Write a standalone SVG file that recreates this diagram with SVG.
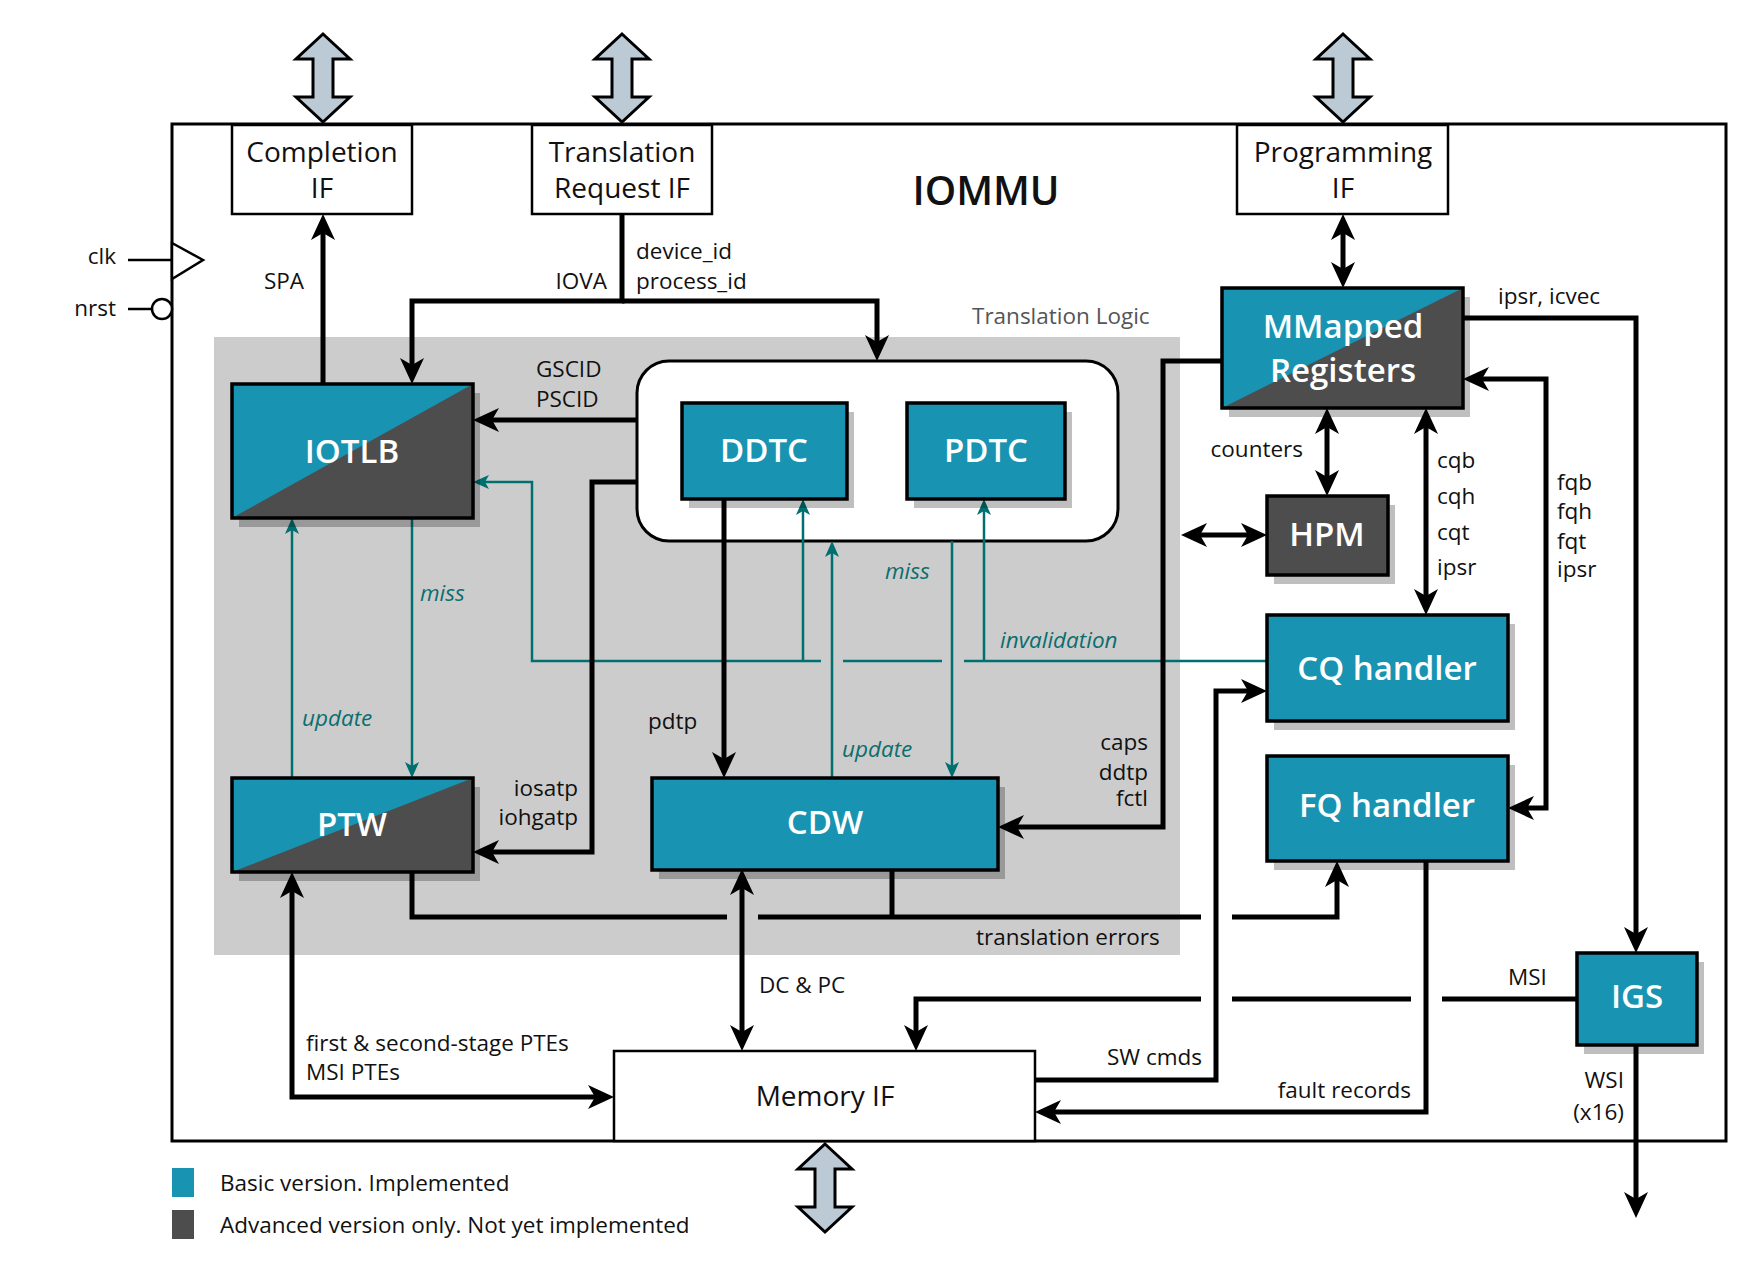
<svg xmlns="http://www.w3.org/2000/svg" width="1758" height="1266" viewBox="0 0 1758 1266">
<style>
.t{font-family:"Open Sans","Noto Sans","DejaVu Sans",sans-serif;font-size:22.5px;fill:#111}
.if{font-family:"Open Sans","Noto Sans","DejaVu Sans",sans-serif;font-size:28px;fill:#111;text-anchor:middle}
.bl{font-family:"Open Sans","Noto Sans","DejaVu Sans",sans-serif;font-size:33px;font-weight:600;fill:#fff;text-anchor:middle}
.it{font-family:"Open Sans","Noto Sans","DejaVu Sans",sans-serif;font-size:22.5px;font-style:italic;fill:#0b6e6e}
.e{text-anchor:end}
.bk{fill:none;stroke:#000;stroke-width:5;stroke-linejoin:miter}
.tl{fill:none;stroke:#006f6f;stroke-width:2.5}
.box{stroke:#000;stroke-width:3.5}
.teal{fill:#1894b2}
.dark{fill:#4d4d4d}
.sh{fill:#000;fill-opacity:0.25}
.big{fill:#bccad6;stroke:#000;stroke-width:3;stroke-linejoin:miter}
</style>
<defs>
<marker id="ab" markerUnits="userSpaceOnUse" markerWidth="30" markerHeight="28" refX="16" refY="12" orient="auto-start-reverse" overflow="visible"><path d="M0,0 L26,12 L0,24 L7,12 z" fill="#000"/></marker>
<marker id="at" markerUnits="userSpaceOnUse" markerWidth="20" markerHeight="18" refX="12" refY="7" orient="auto" overflow="visible"><path d="M0,0 L16,7 L0,14 L4,7 z" fill="#006f6f"/></marker>
</defs>
<rect width="1758" height="1266" fill="#fff"/>

<!-- outer IOMMU box -->
<rect id="iommu" x="172" y="124" width="1554" height="1017" fill="#fff" stroke="#000" stroke-width="3"/>
<text class="t" x="986" y="205" text-anchor="middle" style="font-size:40px;font-weight:600">IOMMU</text>

<!-- translation logic region -->
<g id="translation-logic">
<rect x="214" y="337" width="966" height="618" fill="#cccccc"/>
<text class="t" x="972" y="324" style="fill:#555">Translation Logic</text>
</g>
<g id="cache-group">
<rect x="637" y="361" width="481" height="180" rx="32" fill="#fff" stroke="#000" stroke-width="3"/>
</g>

<!-- big external arrows -->
<g id="ext-arrows">
<polygon class="big" points="323,34 350,59 333,59 333,97 350,97 323,122 296,97 313,97 313,59 296,59"/>
<polygon class="big" points="622,34 649,59 632,59 632,97 649,97 622,122 595,97 612,97 612,59 595,59"/>
<polygon class="big" points="1343,34 1370,59 1353,59 1353,97 1370,97 1343,122 1316,97 1333,97 1333,59 1316,59"/>
<polygon class="big" points="825,1144 852,1169 835,1169 835,1207 852,1207 825,1232 798,1207 815,1207 815,1169 798,1169"/>
</g>

<!-- clk / nrst -->
<g id="clk">
<path d="M128,260 H172" stroke="#000" stroke-width="2.5"/>
<polygon points="172,243 203,260 172,279" fill="#fff" stroke="#000" stroke-width="2.5"/>
<text class="t e" x="116" y="264">clk</text>
</g>
<g id="nrst">
<path d="M128,309 H152" stroke="#000" stroke-width="2.5"/>
<circle cx="162" cy="309" r="10" fill="#fff" stroke="#000" stroke-width="2.5"/>
<text class="t e" x="116" y="316">nrst</text>
</g>

<!-- connectors -->
<g id="connectors">
<!-- teal -->
<path class="tl" d="M412,518 V774" marker-end="url(#at)"/>
<path class="tl" d="M292,778 V522" marker-end="url(#at)"/>
<path class="tl" d="M1267,661 H964"/>
<path class="tl" d="M942,661 H843"/>
<path class="tl" d="M821,661 H532 V482 H477" marker-end="url(#at)"/>
<path class="tl" d="M803,661 V503" marker-end="url(#at)"/>
<path class="tl" d="M984,661 V503" marker-end="url(#at)"/>
<path class="tl" d="M832,778 V545" marker-end="url(#at)"/>
<path class="tl" d="M952,541 V774" marker-end="url(#at)"/>
<!-- black -->
<path class="bk" d="M323,384 V224" marker-end="url(#ab)"/>
<path class="bk" d="M622,214 V301 H412 V374" marker-end="url(#ab)"/>
<path class="bk" d="M622,301 H877 V351" marker-end="url(#ab)"/>
<path class="bk" d="M637,420 H483" marker-end="url(#ab)"/>
<path class="bk" d="M637,482 H592 V852 H483" marker-end="url(#ab)"/>
<path class="bk" d="M724,499 V768" marker-end="url(#ab)"/>
<path class="bk" d="M1222,361 H1163 V827 H1008" marker-end="url(#ab)"/>
<path class="bk" d="M412,872 V917 H727"/>
<path class="bk" d="M758,917 H1201"/>
<path class="bk" d="M1232,917 H1337 V871" marker-end="url(#ab)"/>
<path class="bk" d="M892,869 V917"/>
<path class="bk" d="M742,879 V1041" marker-start="url(#ab)" marker-end="url(#ab)"/>
<path class="bk" d="M292,882 V1097 H604" marker-start="url(#ab)" marker-end="url(#ab)"/>
<path class="bk" d="M1343,224 V278" marker-start="url(#ab)" marker-end="url(#ab)"/>
<path class="bk" d="M1327,418 V486" marker-start="url(#ab)" marker-end="url(#ab)"/>
<path class="bk" d="M1191,535 H1257" marker-start="url(#ab)" marker-end="url(#ab)"/>
<path class="bk" d="M1426,418 V605" marker-start="url(#ab)" marker-end="url(#ab)"/>
<path class="bk" d="M1473,379 H1546 V808 H1518" marker-start="url(#ab)" marker-end="url(#ab)"/>
<path class="bk" d="M1463,318 H1636 V943" marker-end="url(#ab)"/>
<path class="bk" d="M1035,1080 H1216 V691 H1257" marker-end="url(#ab)"/>
<path class="bk" d="M1426,861 V1112 H1045" marker-end="url(#ab)"/>
<path class="bk" d="M1577,999 H1442"/>
<path class="bk" d="M1411,999 H1232"/>
<path class="bk" d="M1201,999 H916 V1041" marker-end="url(#ab)"/>
<path class="bk" d="M1636,1045 V1208" marker-end="url(#ab)"/>
</g>

<!-- interface boxes -->
<g id="completion-if">
<rect x="232" y="125" width="180" height="89" fill="#fff" stroke="#000" stroke-width="2.5"/>
<text class="if" x="322" y="162">Completion</text>
<text class="if" x="322" y="198">IF</text>
</g>
<g id="translation-request-if">
<rect x="532" y="125" width="180" height="89" fill="#fff" stroke="#000" stroke-width="2.5"/>
<text class="if" x="622" y="162">Translation</text>
<text class="if" x="622" y="198">Request IF</text>
</g>
<g id="programming-if">
<rect x="1237" y="125" width="211" height="89" fill="#fff" stroke="#000" stroke-width="2.5"/>
<text class="if" x="1343" y="162">Programming</text>
<text class="if" x="1343" y="198">IF</text>
</g>
<g id="memory-if">
<rect x="614" y="1051" width="421" height="90" fill="#fff" stroke="#000" stroke-width="2.5"/>
<text class="if" x="825" y="1106">Memory IF</text>
</g>

<!-- blocks -->
<g id="iotlb">
<rect class="sh" x="239" y="393" width="241" height="134"/>
<rect class="teal" x="232" y="384" width="241" height="134"/>
<polygon class="dark" points="232,518 473,384 473,518"/>
<rect class="box" x="232" y="384" width="241" height="134" fill="none"/>
<text class="bl" x="352" y="463">IOTLB</text>
</g>
<g id="ptw">
<rect class="sh" x="239" y="787" width="241" height="94"/>
<rect class="teal" x="232" y="778" width="241" height="94"/>
<polygon class="dark" points="232,872 473,778 473,872"/>
<rect class="box" x="232" y="778" width="241" height="94" fill="none"/>
<text class="bl" x="352" y="836">PTW</text>
</g>
<g id="ddtc">
<rect class="sh" x="689" y="412" width="165" height="96"/>
<rect class="teal box" x="682" y="403" width="165" height="96"/>
<text class="bl" x="764" y="462">DDTC</text>
</g>
<g id="pdtc">
<rect class="sh" x="914" y="412" width="158" height="96"/>
<rect class="teal box" x="907" y="403" width="158" height="96"/>
<text class="bl" x="986" y="462">PDTC</text>
</g>
<g id="cdw">
<rect class="sh" x="659" y="787" width="346" height="92"/>
<rect class="teal box" x="652" y="778" width="346" height="92"/>
<text class="bl" x="825" y="834">CDW</text>
</g>
<g id="mmapped-registers">
<rect class="sh" x="1229" y="297" width="241" height="120"/>
<rect class="teal" x="1222" y="288" width="241" height="120"/>
<polygon class="dark" points="1222,408 1463,288 1463,408"/>
<rect class="box" x="1222" y="288" width="241" height="120" fill="none"/>
<text class="bl" x="1343" y="338">MMapped</text>
<text class="bl" x="1343" y="382">Registers</text>
</g>
<g id="hpm">
<rect class="sh" x="1274" y="505" width="121" height="79"/>
<rect class="dark box" x="1267" y="496" width="121" height="79"/>
<text class="bl" x="1327" y="546">HPM</text>
</g>
<g id="cq-handler">
<rect class="sh" x="1274" y="624" width="241" height="106"/>
<rect class="teal box" x="1267" y="615" width="241" height="106"/>
<text class="bl" x="1387" y="680">CQ handler</text>
</g>
<g id="fq-handler">
<rect class="sh" x="1274" y="765" width="241" height="105"/>
<rect class="teal box" x="1267" y="756" width="241" height="105"/>
<text class="bl" x="1387" y="817">FQ handler</text>
</g>
<g id="igs">
<rect class="sh" x="1584" y="962" width="120" height="92"/>
<rect class="teal box" x="1577" y="953" width="120" height="92"/>
<text class="bl" x="1637" y="1008">IGS</text>
</g>

<!-- labels -->
<g id="labels">
<text class="t" x="264" y="289">SPA</text>
<text class="t e" x="607" y="289">IOVA</text>
<text class="t" x="636" y="259">device_id</text>
<text class="t" x="636" y="289">process_id</text>
<text class="t" x="536" y="377">GSCID</text>
<text class="t" x="536" y="407">PSCID</text>
<text class="t e" x="578" y="796">iosatp</text>
<text class="t e" x="578" y="825">iohgatp</text>
<text class="t" x="648" y="729">pdtp</text>
<text class="t e" x="1148" y="750">caps</text>
<text class="t e" x="1148" y="780">ddtp</text>
<text class="t e" x="1148" y="806">fctl</text>
<text class="t" x="976" y="945">translation errors</text>
<text class="t" x="759" y="993">DC &amp; PC</text>
<text class="t" x="306" y="1051">first &amp; second-stage PTEs</text>
<text class="t" x="306" y="1080">MSI PTEs</text>
<text class="t" x="1498" y="304">ipsr, icvec</text>
<text class="t e" x="1303" y="457">counters</text>
<text class="t" x="1437" y="468">cqb</text>
<text class="t" x="1437" y="504">cqh</text>
<text class="t" x="1437" y="540">cqt</text>
<text class="t" x="1437" y="575">ipsr</text>
<text class="t" x="1557" y="490">fqb</text>
<text class="t" x="1557" y="519">fqh</text>
<text class="t" x="1557" y="549">fqt</text>
<text class="t" x="1557" y="577">ipsr</text>
<text class="t e" x="1202" y="1065">SW cmds</text>
<text class="t e" x="1411" y="1098">fault records</text>
<text class="t" x="1508" y="985">MSI</text>
<text class="t e" x="1624" y="1088">WSI</text>
<text class="t e" x="1624" y="1120">(x16)</text>
<text class="it" x="420" y="601">miss</text>
<text class="it" x="302" y="726">update</text>
<text class="it" x="842" y="757">update</text>
<text class="it" x="885" y="579">miss</text>
<text class="it" x="1000" y="648">invalidation</text>
</g>

<!-- legend -->
<g id="legend">
<rect x="172" y="1168" width="22" height="29" fill="#1894b2"/>
<text class="t" x="220" y="1191">Basic version. Implemented</text>
<rect x="172" y="1210" width="22" height="29" fill="#4d4d4d"/>
<text class="t" x="220" y="1233">Advanced version only. Not yet implemented</text>
</g>
</svg>
